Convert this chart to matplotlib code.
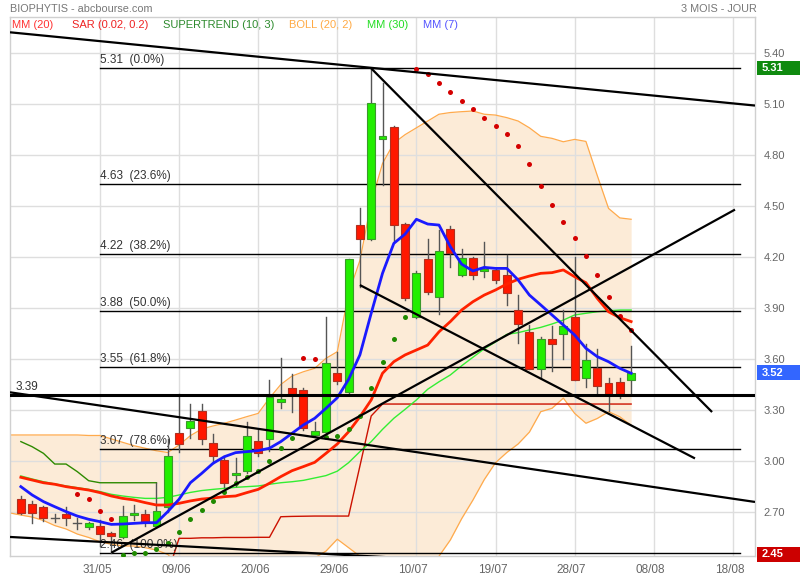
import matplotlib
matplotlib.use('Agg')
import matplotlib.pyplot as plt
import matplotlib.transforms as mtransforms
from matplotlib import font_manager
from matplotlib.patches import Rectangle
import numpy as np

plt.rcParams['font.family'] = ['Liberation Sans', 'DejaVu Sans']
installed = {f.name for f in font_manager.fontManager.ttflist}
has_narrow = 'Liberation Sans Narrow' in installed

# trading days, index 0 = 31/05 ; first candle is 22/05
first_day = -7
opens = [2.775, 2.745, 2.728, 2.667, 2.688, 2.633, 2.614, 2.618, 2.575, 2.555,
         2.682, 2.686, 2.618, 2.728, 3.163, 3.192, 3.294, 3.104, 3.006, 2.916,
         2.943, 3.118, 3.128, 3.345, 3.428, 3.418, 3.153, 3.172, 3.516, 3.404,
         4.388, 4.304, 4.892, 4.963, 4.392, 3.849, 4.186, 3.963, 4.363, 4.094,
         4.192, 4.118, 4.124, 4.092, 3.888, 3.759, 3.541, 3.718, 3.745, 3.849,
         3.486, 3.545, 3.459, 3.465, 3.476]
highs = [2.795, 2.765, 2.735, 2.69, 2.731, 2.663, 2.64, 2.65, 2.58, 2.735,
         2.74, 2.71, 2.87, 3.129, 3.392, 3.335, 3.335, 3.16, 3.03, 3.02,
         3.23, 3.18, 3.476, 3.604, 3.512, 3.43, 3.23, 3.845, 3.643, 4.19,
         4.486, 5.31, 5.222, 4.97, 4.40, 4.12, 4.304, 4.359, 4.38, 4.25,
         4.20, 4.286, 4.13, 4.21, 3.975, 3.80, 3.73, 3.794, 3.888, 4.202,
         3.688, 3.66, 3.486, 3.49, 3.678]
lows = [2.69, 2.633, 2.647, 2.64, 2.624, 2.60, 2.60, 2.50, 2.46, 2.545,
        2.65, 2.62, 2.61, 2.70, 3.055, 3.133, 3.10, 2.99, 2.849, 2.85,
        2.93, 3.03, 3.06, 3.31, 3.29, 3.18, 3.14, 3.16, 3.45, 3.40,
        4.025, 4.30, 4.624, 4.29, 3.95, 3.84, 3.98, 3.863, 4.14, 4.09,
        4.07, 4.08, 4.05, 3.92, 3.696, 3.54, 3.486, 3.531, 3.598, 3.476,
        3.433, 3.40, 3.296, 3.37, 3.398]
closes = [2.696, 2.693, 2.663, 2.667, 2.663, 2.633, 2.633, 2.571, 2.561, 2.676,
          2.692, 2.639, 2.706, 3.031, 3.10, 3.235, 3.128, 3.031, 2.872, 2.929,
          3.147, 3.045, 3.378, 3.365, 3.392, 3.192, 3.176, 3.575, 3.472, 4.186,
          4.304, 5.104, 4.914, 4.388, 3.957, 4.104, 3.992, 4.233, 4.222, 4.192,
          4.094, 4.129, 4.065, 3.986, 3.804, 3.541, 3.716, 3.686, 3.794, 3.476,
          3.592, 3.443, 3.388, 3.388, 3.52]

mm7 = [2.849, 2.80, 2.761, 2.731, 2.702, 2.676, 2.657, 2.643, 2.627, 2.629,
       2.633, 2.637, 2.637, 2.702, 2.775, 2.872, 2.927, 2.986, 3.025, 3.049,
       3.055, 3.061, 3.075, 3.114, 3.163, 3.212, 3.251, 3.31, 3.372, 3.48,
       3.624, 3.869, 4.104, 4.28, 4.335, 4.422, 4.394, 4.388, 4.261, 4.158,
       4.118, 4.139, 4.133, 4.133, 4.065, 3.976, 3.918, 3.859, 3.80, 3.741,
       3.663, 3.614, 3.584, 3.545, 3.516]
mm20 = [2.904, 2.888, 2.872, 2.863, 2.849, 2.839, 2.829, 2.814, 2.794, 2.78,
        2.771, 2.755, 2.741, 2.741, 2.751, 2.765, 2.776, 2.782, 2.79, 2.794,
        2.814, 2.833, 2.869, 2.908, 2.943, 2.967, 2.992, 3.045, 3.10, 3.172,
        3.26, 3.359, 3.516, 3.584, 3.624, 3.653, 3.682, 3.76, 3.82, 3.888,
        3.937, 3.976, 4.006, 4.041, 4.069, 4.088, 4.104, 4.108, 4.124, 4.084,
        4.049, 3.957, 3.878, 3.843, 3.82]
mm30 = [2.912, 2.894, 2.878, 2.865, 2.853, 2.843, 2.833, 2.82, 2.804, 2.794,
        2.786, 2.78, 2.78, 2.786, 2.80, 2.815, 2.826, 2.833, 2.839, 2.845,
        2.849, 2.853, 2.863, 2.872, 2.878, 2.886, 2.90, 2.914, 2.94, 2.99,
        3.055, 3.114, 3.186, 3.251, 3.304, 3.359, 3.422, 3.466, 3.506, 3.56,
        3.61, 3.66, 3.70, 3.745, 3.755, 3.771, 3.786, 3.806, 3.829, 3.859,
        3.869, 3.878, 3.884, 3.888, 3.888]
# bollinger values at the left edge of the window, then one per candle
boll_edge = (3.153, 2.694)
boll_up = [3.153, 3.153, 3.153, 3.153, 3.153, 3.153, 3.15, 3.15, 3.13, 3.11,
           3.09, 3.075, 3.06, 3.05, 3.094, 3.149, 3.188, 3.206, 3.222, 3.241,
           3.261, 3.28, 3.37, 3.45, 3.50, 3.525, 3.545, 3.604, 3.643, 3.986,
           4.18, 4.52, 4.75, 4.87, 4.92, 4.96, 5.00, 5.04, 5.05, 5.055,
           5.059, 5.04, 5.035, 5.02, 5.00, 4.96, 4.91, 4.898, 4.878, 4.892,
           4.88, 4.68, 4.486, 4.43, 4.422]
boll_low = [2.682, 2.67, 2.65, 2.62, 2.60, 2.57, 2.55, 2.525, 2.51, 2.50,
            2.50, 2.49, 2.476, 2.45, 2.38, 2.33, 2.30, 2.28, 2.28, 2.30,
            2.32, 2.34, 2.36, 2.38, 2.40, 2.42, 2.43, 2.47, 2.54, 2.49,
            2.44, 2.30, 2.10, 2.00, 2.05, 2.15, 2.30, 2.44, 2.535, 2.66,
            2.77, 2.89, 2.99, 3.05, 3.10, 3.17, 3.29, 3.31, 3.37, 3.28,
            3.222, 3.25, 3.29, 3.26, 3.21]
nan = np.nan
sar_red = [nan, nan, nan, nan, nan, 2.806, 2.775, 2.708, 2.657, nan,
           nan, nan, nan, nan, nan, nan, nan, nan, nan, nan,
           nan, nan, nan, nan, nan, 3.608, 3.60, nan, nan, nan,
           nan, nan, nan, nan, nan, 5.306, 5.276, 5.225, 5.173, 5.12,
           5.069, 5.02, 4.973, 4.924, 4.853, 4.747, 4.618, 4.506, 4.408, 4.314,
           4.206, 4.094, 3.967, 3.853, 3.771]
sar_green = [nan, nan, nan, nan, nan, nan, nan, nan, nan, 2.447,
             2.457, 2.461, 2.48, 2.519, 2.584, 2.657, 2.714, 2.766, 2.82, 2.869,
             2.908, 2.943, 3.002, 3.075, 3.137, nan, nan, 3.139, 3.147, 3.19,
             3.265, 3.431, 3.583, 3.72, 3.849, nan, nan, nan, nan, nan,
             nan, nan, nan, nan, nan, nan, nan, nan, nan, nan,
             nan, nan, nan, nan, nan]
st_green = [3.114, 3.084, 3.045, 2.982, 2.982, 2.937, 2.884, 2.872, 2.872, 2.872,
            2.872, 2.872, 2.872] + [nan] * 42
st_red = [nan] * 13 + [2.34, 2.545, 2.545, 2.548, 2.548, 2.55, 2.55, 2.55, 2.551, 2.551,
                       2.672, 2.674, 2.675, 2.676, 2.676, 2.676, 2.676, 2.97, 3.265] + [3.335] * 23

fib_levels = [5.31, 4.63, 4.22, 3.88, 3.55, 3.07, 2.46]
fib_labels = ['5.31  (0.0%)', '4.63  (23.6%)', '4.22  (38.2%)', '3.88  (50.0%)',
              '3.55  (61.8%)', '3.07  (78.6%)', '2.46  (100.0%)']
support_level = 3.39
trend_lines = [((-7.96, 5.522), (57.96, 5.091)),
               ((24, 5.31), (54.16, 3.288)),
               ((-7.96, 3.404), (57.96, 2.759)),
               ((-7.96, 2.553), (57.96, 2.318)),
               ((1, 2.46), (56.19, 4.479)),
               ((23, 4.035), (52.65, 3.015))]

date_labels = ['31/05', '09/06', '20/06', '29/06', '10/07', '19/07', '28/07', '08/08', '18/08']
date_pos = [0, 7, 14, 21, 28, 35, 42, 49, 56]
price_ticks = [2.70, 3.00, 3.30, 3.60, 3.90, 4.20, 4.50, 4.80, 5.10, 5.40]
badges = [(5.31, '#0f8a0f'), (3.52, '#3366ff'), (2.45, '#cc0000')]

fig = plt.figure(figsize=(8, 5.8), dpi=100)
ax = fig.add_axes([10 / 800, 1 - 556 / 580, 745 / 800, 539 / 580])
x = np.arange(len(closes)) + first_day
ax.set_xlim(-7.96, 57.96)
ax.set_ylim(2.441, 5.612)

# grid
for p in price_ticks:
    ax.axhline(p, color='#dedede', lw=1, zorder=1)
for d in date_pos:
    ax.axvline(d, color='#dedede', lw=1, zorder=1)

# bollinger (starts at the left border of the window)
bx = np.concatenate([[-7.96], x])
bup = [boll_edge[0]] + boll_up
blow = [boll_edge[1]] + boll_low
ax.fill_between(bx, blow, bup, color='#fcebd7', lw=0, zorder=0.5)
ax.plot(bx, bup, color='#ffaa4c', lw=0.9, zorder=2)
ax.plot(bx, blow, color='#ffaa4c', lw=0.9, zorder=2)

# supertrend
ax.plot(x, st_green, color='#2d8a00', lw=1, zorder=2)
ax.plot(x, st_red, color='#cc1100', lw=1, zorder=2)

ax.plot(x, mm30, color='#33ee33', lw=1, zorder=2)

# fibonacci
for lev, lab in zip(fib_levels, fib_labels):
    ax.plot([0, 56.6], [lev, lev], color='black', lw=1, zorder=3)
    ax.text(0, lev + 0.012, lab, fontsize=8.5, color='#333333', ha='left', va='bottom', zorder=3)

# candles
for xi, o, h, l, c in zip(x, opens, highs, lows, closes):
    ax.plot([xi, xi], [l, h], color='#555555', lw=1, zorder=4)
    if abs(c - o) < 1e-6:
        ax.plot([xi - 0.35, xi + 0.35], [c, c], color='#555555', lw=1, zorder=5)
        continue
    if c > o:
        fc, ec = '#22ee00', '#3a9a2a'
    else:
        fc, ec = '#ff1800', '#b03020'
    ax.add_patch(Rectangle((xi - 0.35, min(o, c)), 0.7, abs(c - o), facecolor=fc,
                           edgecolor=ec, lw=0.8, zorder=5))

ax.plot(x, mm20, color='#ff2200', lw=2, zorder=6)
ax.plot(x, mm7, color='#1a1aff', lw=2, zorder=6)

ax.plot(x, sar_red, 'o', color='#d40000', ms=3.6, mew=0, zorder=7)
ax.plot(x, sar_green, 'o', color='#1f8a00', ms=3.6, mew=0, zorder=7)

# trend lines
ax.axhline(support_level, color='black', lw=2.2, zorder=8)
ax.text(-7.5, support_level + 0.012, '3.39', fontsize=8.5, color='#333333', va='bottom', zorder=8)
for (x0, y0), (x1, y1) in trend_lines:
    ax.plot([x0, x1], [y0, y1], color='black', lw=1.6, zorder=8, solid_capstyle='butt')

# axes styling
for s in ax.spines.values():
    s.set_color('#d0d0d0')
    s.set_linewidth(1)
ax.yaxis.tick_right()
ax.set_yticks(price_ticks)
ax.set_yticklabels(['%.2f' % p for p in price_ticks])
ax.set_xticks(date_pos)
ax.set_xticklabels(date_labels)
ax.tick_params(length=0, labelcolor='#666666')
ax.tick_params(axis='y', pad=6, labelsize=8)
ax.tick_params(axis='x', pad=6, labelsize=8.5)
shift = mtransforms.ScaledTranslation(-3 / 100, 0, fig.dpi_scale_trans)
for lbl in ax.get_xticklabels():
    lbl.set_transform(lbl.get_transform() + shift)

# price badges on the right
trans = mtransforms.blended_transform_factory(fig.transFigure, ax.transData)
for val, col in badges:
    ax.add_patch(Rectangle((757 / 800, val - 0.042), 43 / 800, 0.084, transform=trans,
                           facecolor=col, edgecolor='none', clip_on=False, zorder=10))
    ax.text(762 / 800, val, '%.2f' % val, transform=trans, color='white', fontsize=8,
            fontweight='bold', va='center', ha='left', clip_on=False, zorder=11)

# header
if has_narrow:
    head_font, head_size = ['Liberation Sans Narrow', 'Liberation Sans'], 9.5
else:
    head_font, head_size = ['Liberation Sans', 'DejaVu Sans'], 7.8
fig.text(10 / 800, 1 - 9 / 580, 'BIOPHYTIS - abcbourse.com', fontsize=head_size,
         family=head_font, color='#777777', va='center')
fig.text(757 / 800, 1 - 9 / 580, '3 MOIS - JOUR', fontsize=head_size,
         family=head_font, color='#777777', va='center', ha='right')
legend = [('MM (20)', '#ff3333', 12), ('SAR (0.02, 0.2)', '#ee2222', 72),
          ('SUPERTREND (10, 3)', '#2e8b2e', 163), ('BOLL (20, 2)', '#ffaa44', 289),
          ('MM (30)', '#22dd22', 367), ('MM (7)', '#5555ff', 423)]
for lab, col, px in legend:
    fig.text(px / 800, 1 - 25 / 580, lab, fontsize=8, color=col, va='center')

fig.savefig('out.png', dpi=100)
